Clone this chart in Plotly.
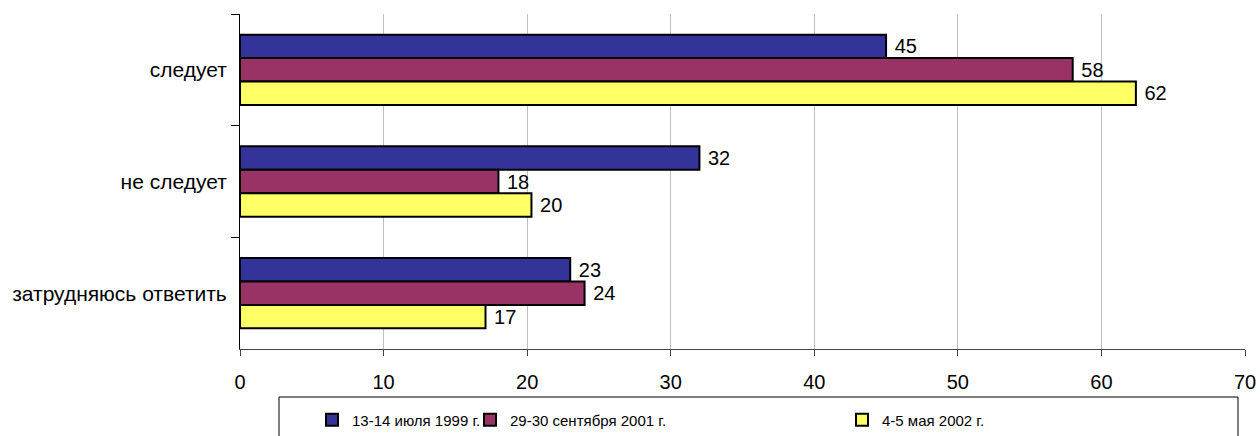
import plotly.graph_objects as go

categories = ["следует", "не следует", "затрудняюсь ответить"]
series_names = ["13-14 июля 1999 г.", "29-30 сентября 2001 г.", "4-5 мая 2002 г."]
values_1999 = [45, 32, 23]
values_2001 = [58, 18, 24]
values_2002 = [62.4, 20.3, 17.1]
x_ticks = [0, 10, 20, 30, 40, 50, 60, 70]

colors = ["#333399", "#993366", "#FFFF66"]
FONT = "Liberation Sans, Arial, sans-serif"
FS_NUM = 20
FS_CAT = 21
FS_LEG = 15

W, H = 1260, 436
ML, MR, MT, MB = 240, 15, 14, 87
plot_h = H - MT - MB
plot_w = W - ML - MR


def px_x(px):
    return (px - ML) / plot_w


def px_y(py):
    return (H - MB - py) / plot_h


fig = go.Figure()
legend_ids = ["legend", "legend2", "legend3"]
for name, vals, col, lg in zip(series_names, [values_1999, values_2001, values_2002], colors, legend_ids):
    fig.add_trace(go.Bar(
        y=categories, x=vals, name=name, orientation="h",
        marker=dict(color=col, line=dict(color="black", width=2)),
        texttemplate=" %{x:.0f}", textposition="outside",
        textfont=dict(family=FONT, size=FS_NUM, color="black"),
        cliponaxis=False, legend=lg,
    ))

legend_box_x = [312, 470, 842]
legend_common = dict(
    orientation="h", font=dict(family=FONT, size=FS_LEG, color="black"),
    bgcolor="rgba(0,0,0,0)", borderwidth=0, xanchor="left", yanchor="middle",
    xref="container", yref="container",
    itemwidth=30, tracegroupgap=0,
)
layout_legends = {}
for lg, bx in zip(legend_ids, legend_box_x):
    layout_legends[lg] = dict(legend_common, x=bx / W, y=1 - 420 / H)

fig.update_layout(
    width=W, height=H,
    margin=dict(l=ML, r=MR, t=MT, b=MB, pad=0, autoexpand=False),
    paper_bgcolor="white", plot_bgcolor="white",
    barmode="group", bargap=0.37, bargroupgap=0,
    font=dict(family=FONT, size=FS_NUM, color="black"),
    showlegend=True,
    xaxis=dict(
        range=[0, 70], tickvals=x_ticks, ticks="outside", ticklen=6, tickcolor="#444",
        showgrid=True, gridcolor="#c0c0c0", gridwidth=1,
        showline=True, linecolor="#444", linewidth=1, zeroline=False,
        ticklabelstandoff=9, automargin=False,
        tickfont=dict(family=FONT, size=FS_NUM, color="black"),
    ),
    yaxis=dict(
        autorange="reversed", ticks="outside", tickson="boundaries", ticklen=8,
        tickcolor="black", showline=True, linecolor="black", linewidth=1,
        showgrid=False, ticklabelstandoff=8, automargin=False,
        tickfont=dict(family=FONT, size=FS_CAT, color="black"),
    ),
    shapes=[dict(
        type="rect", xref="paper", yref="paper",
        x0=px_x(279), x1=px_x(1238), y0=px_y(397), y1=px_y(460),
        line=dict(color="black", width=1), fillcolor="rgba(0,0,0,0)",
    )],
    **layout_legends,
)

fig.write_html(
    "out.html",
    config={"displayModeBar": False},
    post_script="document.body.style.margin='0';document.body.style.overflow='hidden';",
)
